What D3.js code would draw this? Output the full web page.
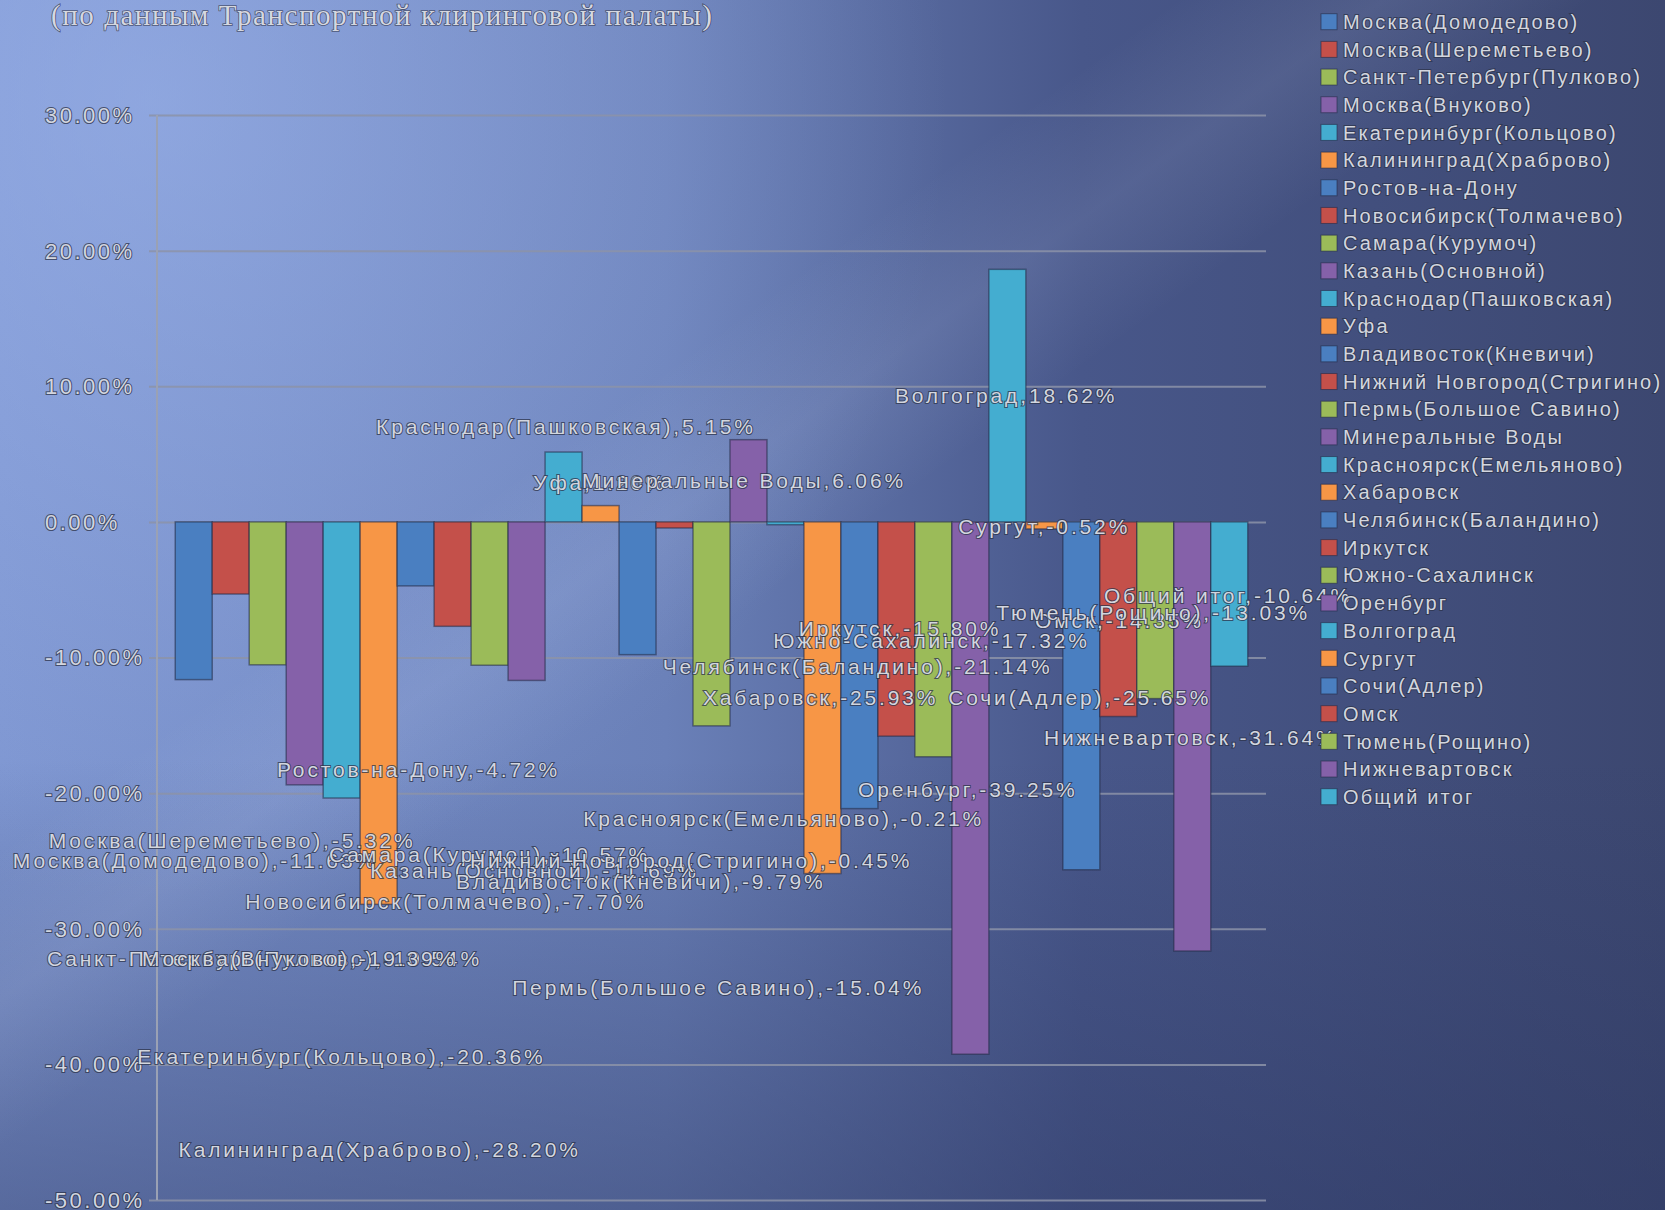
<!DOCTYPE html>
<html>
<head>
<meta charset="utf-8">
<script src="https://cdn.jsdelivr.net/npm/d3@7/dist/d3.min.js"></script>
<style>
  html, body { margin: 0; padding: 0; background: #4a5a8a; }
  svg { display: block; }
  .txt { font-family: "Liberation Sans", Arial, sans-serif; fill: #d3d6df; stroke: rgba(45,52,75,0.75); stroke-width: 2px; paint-order: stroke; }
</style>
</head>
<body>
<svg id="chart" width="1665" height="1210"></svg>
<script>
// ---------- data ----------
const titleText = "(по данным Транспортной клиринговой палаты)";
const series = [
  "Москва(Домодедово)", "Москва(Шереметьево)", "Санкт-Петербург(Пулково)", "Москва(Внуково)",
  "Екатеринбург(Кольцово)", "Калининград(Храброво)", "Ростов-на-Дону", "Новосибирск(Толмачево)",
  "Самара(Курумоч)", "Казань(Основной)", "Краснодар(Пашковская)", "Уфа",
  "Владивосток(Кневичи)", "Нижний Новгород(Стригино)", "Пермь(Большое Савино)", "Минеральные Воды",
  "Красноярск(Емельяново)", "Хабаровск", "Челябинск(Баландино)", "Иркутск",
  "Южно-Сахалинск", "Оренбург", "Волгоград", "Сургут",
  "Сочи(Адлер)", "Омск", "Тюмень(Рощино)", "Нижневартовск", "Общий итог"
];
const values = [
  -11.63, -5.32, -10.54, -19.39,
  -20.36, -28.20, -4.72, -7.70,
  -10.57, -11.69, 5.15, 1.20,
  -9.79, -0.45, -15.04, 6.06,
  -0.21, -25.93, -21.14, -15.80,
  -17.32, -39.25, 18.62, -0.52,
  -25.65, -14.35, -13.03, -31.64, -10.64
];
const yTicks = [30, 20, 10, 0, -10, -20, -30, -40, -50];
const palette = ["#4a7fc1", "#c4504a", "#9bbb59", "#8561a9", "#44add0", "#f79646"];
// data-label anchors (left edge in bar-slot units, vertical centre in % units), as placed in the original
const labelSlot = [
  -4.39, -3.42, -3.47, -0.90,
  -1.03, 0.09, 2.75, 1.89,
  4.16, 5.27, 5.43, 9.68,
  7.59, 7.97, 9.11, 11.00,
  11.03, 14.27, 13.18, 16.86,
  16.17, 18.46, 19.46, 21.17,
  20.90, 23.25, 22.20, 23.49, 25.11
];
const labelPct = [
  -24.96, -23.49, -32.19, -32.19,
  -39.42, -46.28, -18.25, -27.96,
  -24.52, -25.70, 7.04, 2.91,
  -26.51, -24.96, -34.31, 3.06,
  -21.85, -12.92, -10.66, -7.83,
  -8.74, -19.73, 9.33, -0.33,
  -12.92, -7.26, -6.67, -15.89, -5.42
];

// ---------- layout ----------
const W = 1665, H = 1210;
const plot = { left: 157, right: 1266, top: 115, bottom: 1200 };
const svg = d3.select("#chart");
const defs = svg.append("defs");
const pct = v => d3.format(".2f")(v).replace("\u2212", "-") + "%";

// background layers
const bg = defs.append("linearGradient").attr("id", "bg")
  .attr("gradientUnits", "userSpaceOnUse")
  .attr("x1", 0).attr("y1", 0).attr("x2", W).attr("y2", 0);
[["0", "#7d95d0"], ["0.4", "#6a80b8"], ["0.65", "#48578a"], ["1", "#3c4770"]]
  .forEach(([o, c]) => bg.append("stop").attr("offset", o).attr("stop-color", c));
svg.append("rect").attr("width", W).attr("height", H).attr("fill", "url(#bg)");

const glow = defs.append("radialGradient").attr("id", "glow")
  .attr("gradientUnits", "userSpaceOnUse").attr("cx", 150).attr("cy", 100).attr("r", 800);
[["0", "#a4bcf3", 0.5], ["1", "#a4bcf3", 0]]
  .forEach(([o, c, a]) => glow.append("stop").attr("offset", o).attr("stop-color", c).attr("stop-opacity", a));
svg.append("rect").attr("width", W).attr("height", H).attr("fill", "url(#glow)");

const dark = defs.append("linearGradient").attr("id", "dark")
  .attr("gradientUnits", "userSpaceOnUse")
  .attr("x1", 0).attr("y1", 760).attr("x2", 0).attr("y2", 1210);
[["0", "#2a3560", 0], ["1", "#2a3560", 0.45]]
  .forEach(([o, c, a]) => dark.append("stop").attr("offset", o).attr("stop-color", c).attr("stop-opacity", a));
svg.append("rect").attr("width", W).attr("height", H).attr("fill", "url(#dark)");

const band = defs.append("linearGradient").attr("id", "band")
  .attr("gradientUnits", "userSpaceOnUse")
  .attr("x1", 0).attr("y1", 0).attr("x2", 1300).attr("y2", 1800);
[["0", 0], ["0.31", 0], ["0.365", 0.1], ["0.42", 0], ["1", 0]]
  .forEach(([o, a]) => band.append("stop").attr("offset", o).attr("stop-color", "#d8e2ff").attr("stop-opacity", a));
svg.append("rect").attr("width", W).attr("height", H).attr("fill", "url(#band)");

// ---------- scales ----------
const y = d3.scaleLinear().domain([-50, 30]).range([plot.bottom, plot.top]);
const x0 = d3.scaleBand().domain(["all"]).range([plot.left, plot.right]).paddingOuter(0.017).paddingInner(0);
const x1 = d3.scaleBand().domain(series).range([0, x0.bandwidth()]).padding(0);
const slot = d3.scaleLinear().domain([0, 1]).range([x0("all"), x0("all") + x1.step()]);

// ---------- grid & axis ----------
const g = svg.append("g");
const yAxis = d3.axisLeft(y).tickValues(yTicks).tickSize(-(plot.right - plot.left) - 8).tickFormat("");
const ax = g.append("g").attr("transform", `translate(${plot.left - 8},0)`).call(yAxis);
ax.select(".domain").remove();
ax.selectAll(".tick line").attr("stroke", "#8c93a8").attr("stroke-width", 2).attr("stroke-opacity", 0.85);
g.append("line").attr("x1", plot.left).attr("x2", plot.left).attr("y1", plot.top).attr("y2", plot.bottom)
  .attr("stroke", "#9aa1b4").attr("stroke-width", 2);

g.selectAll("text.ytick").data(yTicks).enter().append("text")
  .attr("class", "txt ytick")
  .attr("x", 45).attr("y", d => y(d)).attr("dy", "0.36em")
  .attr("font-size", 22).attr("letter-spacing", 2.5)
  .text(d => pct(d));

// ---------- bars ----------
const rows = series.map((s, i) => ({ name: s, value: values[i], i }));
g.selectAll("rect.bar").data(rows).enter().append("rect")
  .attr("class", "bar")
  .attr("x", d => x0("all") + x1(d.name))
  .attr("width", x1.bandwidth())
  .attr("y", d => y(Math.max(0, d.value)))
  .attr("height", d => Math.abs(y(d.value) - y(0)))
  .attr("fill", d => palette[d.i % palette.length])
  .attr("stroke", "rgba(35,42,70,0.55)").attr("stroke-width", 1.5);

// ---------- data labels ----------
g.selectAll("text.dlab").data(rows).enter().append("text")
  .attr("class", "txt dlab")
  .attr("x", d => slot(labelSlot[d.i]))
  .attr("y", d => y(labelPct[d.i])).attr("dy", "0.36em")
  .attr("font-size", 21).attr("letter-spacing", 2.85)
  .text(d => d.name + "," + pct(d.value));

// ---------- legend ----------
const leg = svg.append("g");
const ly = d3.scaleLinear().domain([0, series.length - 1]).range([21.7, 796.7]);
const li = leg.selectAll("g").data(rows).enter().append("g")
  .attr("transform", d => `translate(1321,${ly(d.i)})`);
li.append("rect").attr("x", 0).attr("y", -8).attr("width", 16).attr("height", 16)
  .attr("fill", d => palette[d.i % palette.length])
  .attr("stroke", "rgba(35,42,70,0.6)").attr("stroke-width", 1);
li.append("text").attr("class", "txt").attr("x", 22).attr("dy", "0.36em")
  .attr("font-size", 20).attr("letter-spacing", 2.15)
  .text(d => d.name);

// ---------- title ----------
svg.append("text").attr("x", 51).attr("y", 25)
  .attr("font-family", "'Liberation Serif', 'DejaVu Serif', serif")
  .attr("font-size", 29).attr("fill", "#d6d8e0")
  .attr("stroke", "rgba(60,66,90,0.8)").attr("stroke-width", 1.6).attr("paint-order", "stroke")
  .attr("textLength", 661).attr("lengthAdjust", "spacing")
  .text(titleText);
</script>
</body>
</html>
